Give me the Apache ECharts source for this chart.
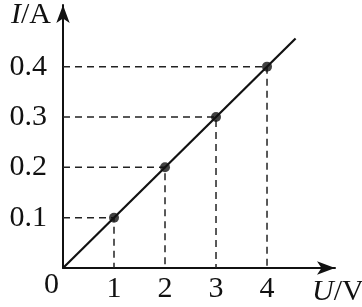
<!DOCTYPE html>
<html><head><meta charset="utf-8">
<script src="https://cdn.jsdelivr.net/npm/echarts@6/dist/echarts.min.js"></script>
<style>html,body{margin:0;padding:0;background:#fff}#c{width:362px;height:307px}</style>
</head><body><div id="c"></div>
<script>
var voltages = [1, 2, 3, 4];
var currents = [0.1, 0.2, 0.3, 0.4];
var lineEnd = [4.56, 0.456];
var xTicks = [1, 2, 3, 4];
var yTicks = [0.1, 0.2, 0.3, 0.4];

var FONT = '"Liberation Serif", "DejaVu Serif", serif';
var FS = 30;
var chart = echarts.init(document.getElementById('c'), null, {renderer: 'canvas'});

var series = [];
voltages.forEach(function (u, i) {
  series.push({
    type: 'line',
    data: [[0, currents[i]], [u, currents[i]], [u, 0]],
    symbol: 'none',
    lineStyle: {color: '#222', width: 1.5, type: [7, 5]},
    silent: true, z: 1
  });
});
series.push({
  type: 'line',
  data: [[0, 0], lineEnd],
  symbol: 'none',
  lineStyle: {color: '#111', width: 2.2},
  silent: true, z: 2
});
series.push({
  type: 'scatter',
  data: voltages.map(function (u, i) { return [u, currents[i]]; }),
  symbolSize: 10,
  itemStyle: {color: '#111'},
  silent: true, z: 3
});

chart.setOption({
  animation: false,
  backgroundColor: '#fff',
  grid: {left: 63, right: 27, top: 5, bottom: 39},
  xAxis: {
    type: 'value', min: 0, max: 5.333, interval: 1,
    splitLine: {show: false},
    axisTick: {show: false},
    axisLine: {lineStyle: {color: '#111', width: 2}, symbol: ['none', 'arrow'], symbolSize: [10, 18]},
    axisLabel: {
      fontFamily: FONT, fontSize: FS, color: '#111', margin: 6,
      showMaxLabel: false,
      formatter: function (v) { return xTicks.indexOf(Math.round(v)) >= 0 && Math.abs(v - Math.round(v)) < 1e-6 ? String(Math.round(v)) : ''; }
    }
  },
  yAxis: {
    type: 'value', min: 0, max: 0.5225, interval: 0.1,
    splitLine: {show: false},
    axisTick: {show: false},
    axisLine: {lineStyle: {color: '#111', width: 2}, symbol: ['none', 'arrow'], symbolSize: [10, 18]},
    axisLabel: {
      fontFamily: FONT, fontSize: FS, color: '#111', margin: 16,
      showMaxLabel: false,
      formatter: function (v) {
        var r = Math.round(v * 10) / 10;
        return (yTicks.indexOf(r) >= 0) ? r.toFixed(1) : '';
      }
    }
  },
  graphic: [
    {type: 'text', left: 44, top: 270, style: {text: '0', font: FS + 'px ' + FONT, fill: '#111'}},
    {type: 'text', left: 11, top: 0, style: {
      text: '{i|I}{n|/A}', fill: '#111',
      rich: {i: {fontFamily: FONT, fontSize: FS, fontStyle: 'italic'}, n: {fontFamily: FONT, fontSize: FS}}
    }},
    {type: 'text', left: 312, top: 277, style: {
      text: '{i|U}{n|/V}', fill: '#111',
      rich: {i: {fontFamily: FONT, fontSize: FS, fontStyle: 'italic'}, n: {fontFamily: FONT, fontSize: FS}}
    }}
  ],
  series: series
});
</script></body></html>
